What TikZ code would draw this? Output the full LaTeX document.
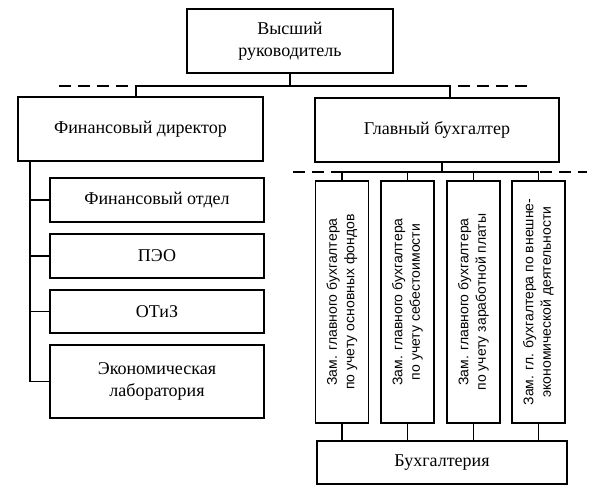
\documentclass[tikz,border=0pt]{standalone}
\usepackage{fontspec}
\setmainfont{Liberation Serif}
\newfontfamily\narrowfont{Liberation Sans}
\begin{document}
\begin{tikzpicture}[x=1pt,y=-1pt,line width=1.2pt,
    box/.style={draw,rectangle,inner sep=0pt,align=center,
      font=\fontsize{18}{22}\selectfont},
    colbox/.style={draw,rectangle,inner sep=0pt,minimum width=53pt,
      minimum height=242pt},
    coltext/.style={rotate=90,align=center,
      font=\narrowfont\fontsize{14}{17.5}\selectfont},
    bus/.style={dash pattern=on 12pt off 7pt}
  ]
  \useasboundingbox (0,0) rectangle (595,500);

  % BOXES
  \node[box,minimum width=206pt,minimum height=64pt] (head) at (290,41)
    {Высший\\руководитель};
  \node[box,minimum width=245pt,minimum height=64pt] (findir) at (140.5,129)
    {Финансовый директор};
  \node[box,minimum width=244pt,minimum height=64pt] (chief) at (437,130)
    {Главный бухгалтер};

  \node[box,minimum width=214pt,minimum height=44pt] (fin) at (157,200)
    {Финансовый отдел};
  \node[box,minimum width=214pt,minimum height=44pt] (peo) at (157,256)
    {ПЭО};
  \node[box,minimum width=214pt,minimum height=43pt] (otiz) at (157,311.5)
    {ОТиЗ};
  \node[box,minimum width=214pt,minimum height=73pt] (lab) at (157,381.5)
    {Экономическая\\лаборатория};

  \node[colbox] (d1) at (342,302) {};
  \node[coltext] at (d1) {Зам. главного бухгалтера\\по учету основных фондов};
  \node[colbox] (d2) at (407.5,302) {};
  \node[coltext] at (d2) {Зам. главного бухгалтера\\по учету себестоимости};
  \node[colbox] (d3) at (473.5,302) {};
  \node[coltext] at (d3) {Зам. главного бухгалтера\\по учету заработной платы};
  \node[colbox] (d4) at (538.5,302) {};
  \node[coltext] at (d4) {Зам. гл. бухгалтера по внешне-\\экономической деятельности};

  \node[box,minimum width=250pt,minimum height=43pt] (acc) at (442,462.5)
    {Бухгалтерия};

  % DASHED LINES
  \coordinate (b1l) at (59,86);
  \coordinate (b1r) at (530,86);
  \coordinate (b2l) at (293,172);
  \coordinate (b2r) at (587,172);
  \draw[bus] (b1l) -- (b1r);
  \draw[bus] (b2l) -- (b2r);

  % LINES
  \draw (head.south) -- (head.south |- b1l);
  \coordinate (f1) at (136,86);
  \coordinate (c1) at (450,86);
  \draw (f1) -- (c1);
  \draw (f1) -- (f1 |- findir.north);
  \draw (c1) -- (c1 |- chief.north);

  \coordinate (lt) at (30,161);
  \draw (lt) -- (lt |- lab.west) -- (lab.west);
  \foreach \n in {fin,peo,otiz}
    \draw (lt |- \n.west) -- (\n.west);

  \coordinate (c2) at (442,172);
  \draw (chief.south -| c2) -- (c2);
  \draw (d1.north |- b2l) -- (d4.north |- b2l);
  \foreach \n in {d1,d2,d3,d4} {
    \draw (\n.north |- b2l) -- (\n.north);
    \draw (\n.south) -- (\n.south |- acc.north);
  }

\end{tikzpicture}
\end{document}
